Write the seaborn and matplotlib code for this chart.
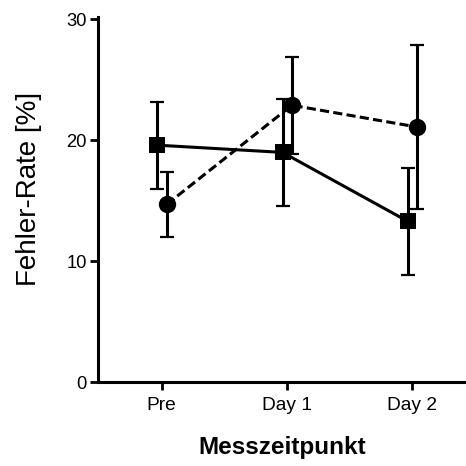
import matplotlib
matplotlib.use("Agg")
import matplotlib.pyplot as plt
import seaborn as sns
import numpy as np
import pandas as pd

# Measurement time points
timepoints = ["Pre", "Day 1", "Day 2"]

# Group 1 (squares, solid line): mean error rate and SD
group1_mean = [19.6, 19.0, 13.3]
group1_sd = [3.6, 4.4, 4.4]

# Group 2 (circles, dashed line): mean error rate and SD
group2_mean = [14.7, 22.9, 21.1]
group2_sd = [2.7, 4.0, 6.8]

y_ticks = [0, 10, 20, 30]

sns.set_theme(style="ticks")
plt.rcParams["font.family"] = ["Liberation Sans", "DejaVu Sans"]
plt.rcParams["text.color"] = "black"
plt.rcParams["axes.labelcolor"] = "black"

fig = plt.figure(figsize=(4.66, 4.66), dpi=100)
ax = fig.add_axes([0.21, 0.18, 0.79, 0.7835])

lw = 2.2
base = np.arange(len(timepoints))

series = [
    dict(name="Gruppe 2", mean=group2_mean, sd=group2_sd, shift=0.04,
         marker="o", ms=12.5, ls=(0, (3.0, 1.4))),
    dict(name="Gruppe 1", mean=group1_mean, sd=group1_sd, shift=-0.035,
         marker="s", ms=11, ls="-"),
]

for z, s in enumerate(series):
    xpos = base + s["shift"]
    df = pd.DataFrame({"x": xpos, "y": s["mean"], "sd": s["sd"]})
    ax.errorbar(df["x"], df["y"], yerr=df["sd"], fmt="none", ecolor="black",
                elinewidth=lw, capsize=5, capthick=1.6, zorder=3 + 2 * z)
    sns.lineplot(data=df, x="x", y="y", ax=ax, color="black", linewidth=lw,
                 marker=s["marker"], markersize=s["ms"], markeredgewidth=0,
                 linestyle=s["ls"], zorder=4 + 2 * z, sort=False,
                 errorbar=None, legend=False)

ax.set_xlim(-0.51, 2.43)
ax.set_ylim(0, 30.2)
ax.set_xticks(base)
ax.set_xticklabels(timepoints)
ax.set_yticks(y_ticks)

for side in ["top", "right"]:
    ax.spines[side].set_visible(False)
for side in ["left", "bottom"]:
    ax.spines[side].set_linewidth(2.2)
    ax.spines[side].set_color("black")

ax.tick_params(axis="both", colors="black", width=2.0, length=6,
               direction="out")
ax.tick_params(axis="y", labelsize=13.2, pad=2)
ax.tick_params(axis="x", labelsize=13.8, pad=5)

ax.set_xlabel("Messzeitpunkt", fontsize=17.5, fontweight="bold")
ax.set_ylabel("Fehler-Rate [%]", fontsize=20)
ax.xaxis.set_label_coords(0.5, -0.148)
ax.yaxis.set_label_coords(-0.152, 0.53)

fig.savefig("out.png", dpi=100, facecolor="white")
